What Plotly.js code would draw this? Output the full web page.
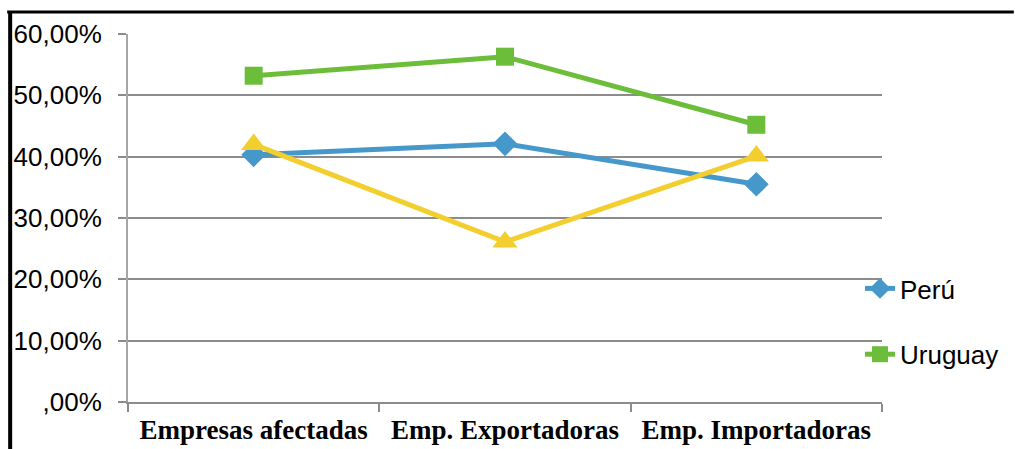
<!DOCTYPE html>
<html>
<head>
<meta charset="utf-8">
<script src="https://cdn.plot.ly/plotly-3.0.1.min.js"></script>
<style>html,body{margin:0;padding:0;background:#fff;}#chart{width:1015px;height:449px;}</style>
</head>
<body>
<div id="chart"></div>
<script>
const categories = ["Empresas afectadas", "Emp. Exportadoras", "Emp. Importadoras"];
const peru = [0.403, 0.421, 0.355];
const uruguay = [0.532, 0.563, 0.452];
const otro = [0.420, 0.261, 0.401];
const tickVals = [0, 0.1, 0.2, 0.3, 0.4, 0.5, 0.6];
const tickText = [",00%", "10,00%", "20,00%", "30,00%", "40,00%", "50,00%", "60,00%"];

const L = 128, R = 883, T = 34, B = 402, W = 1015, H = 449;
const px = x => (x - L) / (R - L);
const py = y => (B - y) / (B - T);

const traces = [
  {x: categories, y: peru, name: "Perú", type: "scatter", mode: "lines+markers",
   legendgroup: "a", line: {color: "#4698CA", width: 5},
   marker: {symbol: "diamond", size: 19, color: "#4698CA"}},
  {x: categories, y: uruguay, name: "Uruguay", type: "scatter", mode: "lines+markers",
   legendgroup: "b", line: {color: "#6CBE3A", width: 5},
   marker: {symbol: "square", size: 18, color: "#6CBE3A"}},
  {x: categories, y: otro, name: "Otro", type: "scatter", mode: "lines+markers",
   legendgroup: "c", showlegend: false, line: {color: "#F2CF2E", width: 5},
   marker: {symbol: "triangle-up", size: 22, color: "#F2CF2E"}}
];

const layout = {
  width: W, height: H,
  margin: {l: L, r: W - R, t: T, b: H - B, pad: 0},
  paper_bgcolor: "#fff", plot_bgcolor: "#fff",
  showlegend: true,
  legend: {x: px(860), y: py(265), xanchor: "left", yanchor: "top",
           font: {family: "Liberation Sans, Arial", size: 26, color: "#000"},
           tracegroupgap: 29, traceorder: "grouped", bgcolor: "rgba(0,0,0,0)"},
  xaxis: {type: "category", range: [-0.5, 2.5], showgrid: false, zeroline: false,
          showline: true, linecolor: "#8c8c8c", linewidth: 2,
          ticks: "outside", tickson: "boundaries", ticklen: 8, tickcolor: "#8c8c8c", tickwidth: 2,
          tickfont: {family: "Liberation Serif, Times New Roman", size: 27, color: "#000", weight: "bold"},
          ticklabelstandoff: 3},
  yaxis: {range: [0, 0.6], tickvals: tickVals, ticktext: tickText,
          showgrid: true, gridcolor: "#8c8c8c", gridwidth: 2, zeroline: false,
          showline: true, linecolor: "#a6a6a6", linewidth: 2,
          ticks: "outside", ticklen: 8, tickcolor: "#8c8c8c", tickwidth: 2,
          tickfont: {family: "Liberation Sans, Arial", size: 26, color: "#000"},
          ticklabelstandoff: 11},
  shapes: [
    {type: "line", xref: "paper", yref: "paper", x0: px(7), x1: px(1015), y0: py(12), y1: py(12),
     line: {color: "#000", width: 3}},
    {type: "line", xref: "paper", yref: "paper", x0: px(10), x1: px(10), y0: py(11), y1: py(452),
     line: {color: "#000", width: 4}}
  ]
};

Plotly.newPlot("chart", traces, layout, {displayModeBar: false, staticPlot: true});
</script>
</body>
</html>
